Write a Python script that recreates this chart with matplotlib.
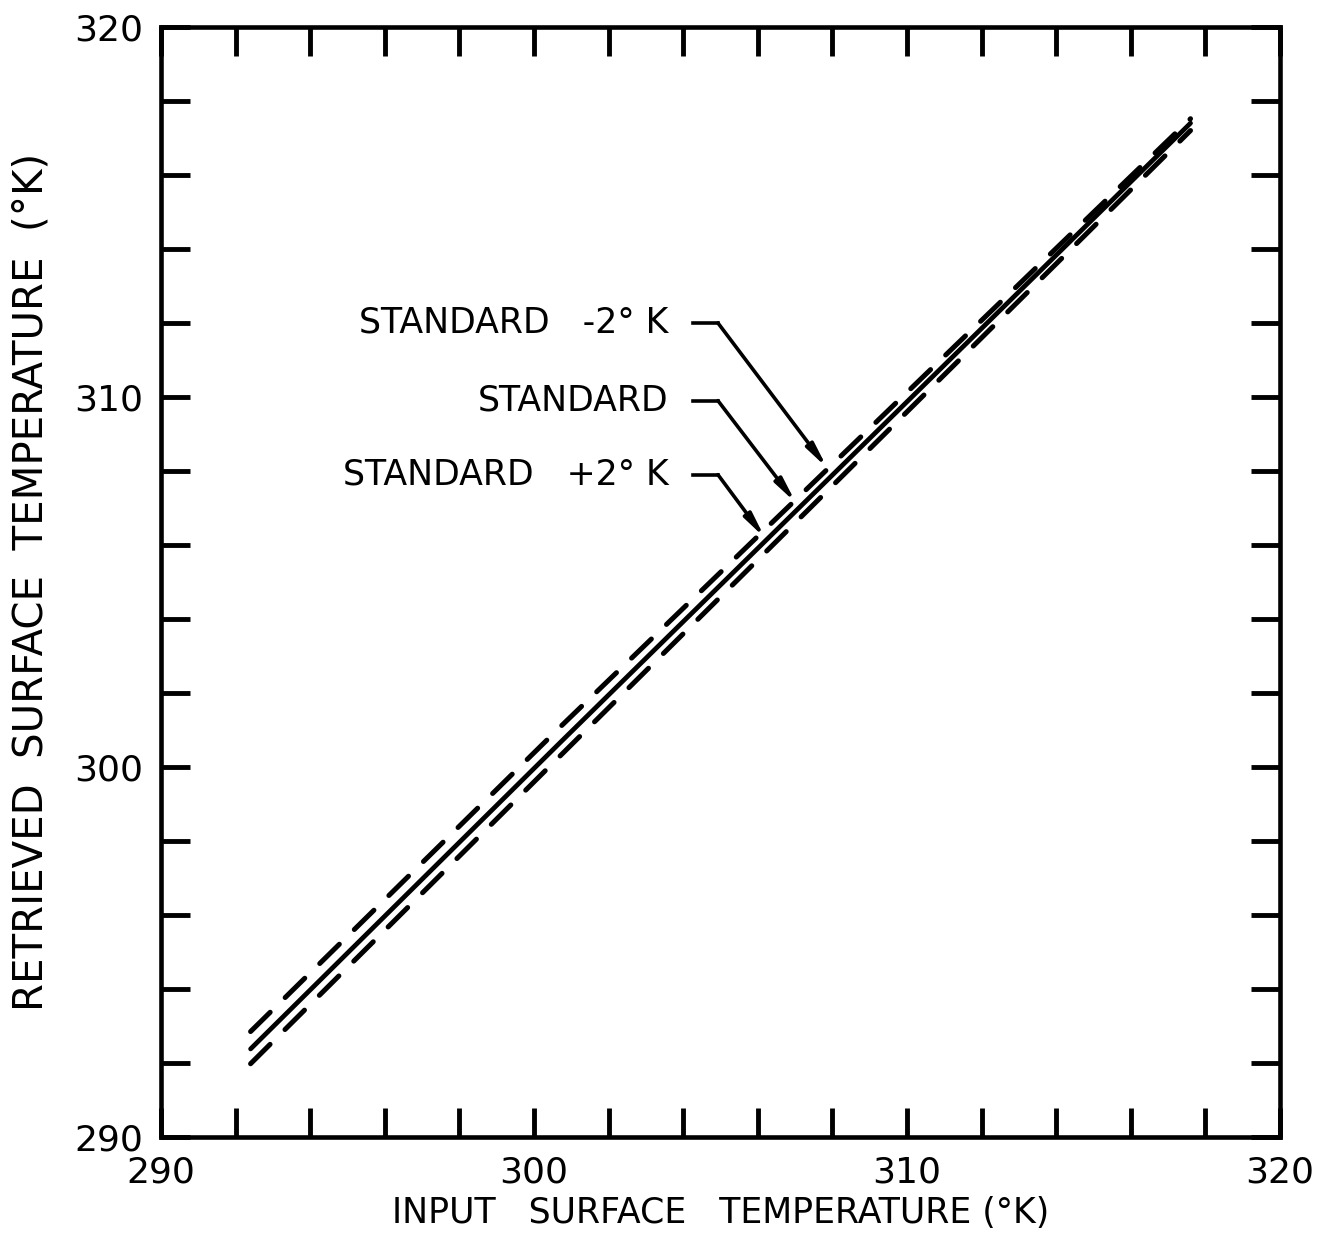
import numpy as np
import matplotlib.pyplot as plt
from matplotlib.ticker import MultipleLocator, FuncFormatter

plt.rcParams['font.family'] = ['DejaVu Sans']

# Input surface temperature (deg K) at points
input_temp = [292.4, 300.7, 317.6]
# Retrieved surface temperature for each assumed atmosphere
retr_standard = [292.38, 300.66, 317.40]
retr_upper = [292.85, 301.08, 317.52]
retr_lower = [291.98, 300.30, 317.20]

labels = ["STANDARD   -2\u00b0 K", "STANDARD", "STANDARD   +2\u00b0 K"]
label_y = [312.0, 309.9, 307.9]
arrow_tips = [(307.86, 308.08), (307.02, 307.14), (306.19, 306.19)]

fig = plt.figure(figsize=(13.18, 12.59), dpi=100)
ax = fig.add_axes([0.1222, 0.0969, 0.849, 0.8817])

dash_kw = dict(color='black', lw=3.6, dashes=(5.5, 4.2), dash_capstyle='round')
ax.plot(input_temp, retr_upper, **dash_kw)
ax.plot(input_temp, retr_lower, **dash_kw)
ax.plot(input_temp, retr_standard, color='black', lw=3.4, solid_capstyle='round')

# labels with bent leader arrows
for text, ty, tip in zip(labels, label_y, arrow_tips):
    ax.text(303.6, ty, text, ha='right', va='center', fontsize=25)
    ax.plot([304.26, 304.93], [ty, ty], color='black', lw=2.6)
    ax.annotate('', xy=tip, xytext=(304.93, ty),
                arrowprops=dict(arrowstyle='-|>,head_length=1.4,head_width=0.25',
                                color='black', lw=2.6, shrinkA=0, shrinkB=0))

ax.set_xlim(290, 320)
ax.set_ylim(290, 320)

fmt = FuncFormatter(lambda v, p: f"{int(round(v))}" if round(v) % 10 == 0 else "")
for axis in (ax.xaxis, ax.yaxis):
    axis.set_major_locator(MultipleLocator(2))
    axis.set_major_formatter(fmt)

ax.tick_params(direction='in', length=21, width=3.5, top=True, right=True,
               labelsize=26, pad=13)
for s in ax.spines.values():
    s.set_linewidth(3.3)

ax.set_xlabel("INPUT   SURFACE   TEMPERATURE (\u00b0K)", fontsize=25, labelpad=5)
ax.set_ylabel("RETRIEVED  SURFACE  TEMPERATURE  (\u00b0K)", fontsize=29, labelpad=16)

plt.savefig("out.png", dpi=100)
